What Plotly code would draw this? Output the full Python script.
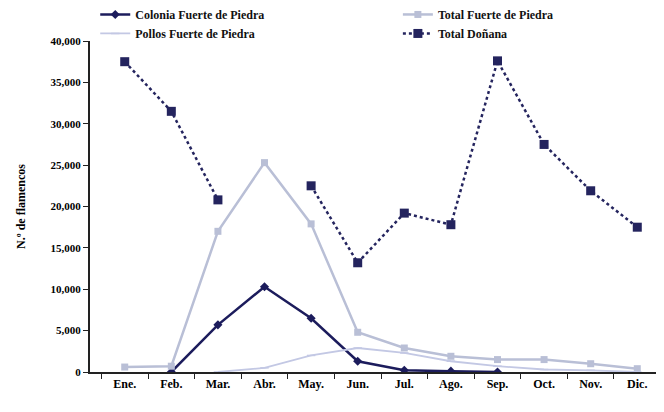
import plotly.graph_objects as go

months = ["Ene.", "Feb.", "Mar.", "Abr.", "May.", "Jun.", "Jul.", "Ago.", "Sep.", "Oct.", "Nov.", "Dic."]
colonia = [None, 0, 5700, 10300, 6500, 1300, 200, 100, 0, None, None, None]
total_fp = [600, 700, 17000, 25300, 17900, 4800, 2900, 1900, 1500, 1500, 1000, 400]
pollos = [None, None, 0, 500, 2000, 2900, 2300, 1300, 700, 300, 200, 0]
total_donana = [37500, 31500, 20800, None, 22500, 13200, 19200, 17800, 37600, 27500, 21900, 17500]

font_family = "Liberation Serif"

fig = go.Figure()
fig.add_trace(go.Scatter(
    x=months, y=colonia, name="Colonia Fuerte de Piedra", mode="lines+markers",
    line=dict(color="#1c1c5c", width=2.5),
    marker=dict(symbol="diamond", size=7, color="#1c1c5c"),
    legend="legend",
))
fig.add_trace(go.Scatter(
    x=months, y=total_fp, name="Total Fuerte de Piedra", mode="lines+markers",
    line=dict(color="#b9bfd6", width=2.5),
    marker=dict(symbol="square", size=7, color="#b9bfd6"),
    legend="legend2",
))
fig.add_trace(go.Scatter(
    x=months, y=pollos, name="Pollos Fuerte de Piedra", mode="lines+markers",
    line=dict(color="#c3c8e4", width=1.8),
    marker=dict(symbol="line-ew", size=6, color="#c3c8e4", line=dict(color="#c3c8e4", width=1.5)),
    legend="legend",
))
fig.add_trace(go.Scatter(
    x=months, y=total_donana, name="Total Doñana", mode="lines+markers",
    line=dict(color="#24245e", width=2.5, dash="dot"),
    marker=dict(symbol="square", size=9, color="#24245e"),
    connectgaps=False,
    legend="legend2",
))

legend_common = dict(
    orientation="v", yanchor="top", y=1.124,
    font=dict(family=font_family, size=12, color="#111111", weight="bold"),
    bgcolor="rgba(0,0,0,0)", tracegroupgap=0, itemwidth=30,
)

fig.update_layout(
    width=664, height=412,
    margin=dict(l=82, r=0, t=33, b=48, autoexpand=False),
    paper_bgcolor="white", plot_bgcolor="white",
    font=dict(family=font_family, size=11, color="black"),
    showlegend=True,
    legend=dict(x=0.009, xanchor="left", **legend_common),
    legend2=dict(x=0.529, xanchor="left", **legend_common),
    xaxis=dict(
        type="category", showgrid=False, showline=True, linecolor="#222222", linewidth=2,
        ticks="outside", tickson="boundaries", ticklen=5, tickcolor="#222222",
        tickfont=dict(family=font_family, size=12, weight="bold"),
        zeroline=False,
    ),
    yaxis=dict(
        range=[0, 40000], dtick=5000, tickformat=",", showgrid=False,
        showline=True, linecolor="#222222", linewidth=2,
        ticks="outside", ticklen=5, tickcolor="#222222",
        tickfont=dict(family=font_family, size=11, weight="bold"),
        title=dict(text="N.º de flamencos", font=dict(family=font_family, size=12, weight="bold"), standoff=22),
        zeroline=False,
    ),
)

fig.write_html("out.html")
